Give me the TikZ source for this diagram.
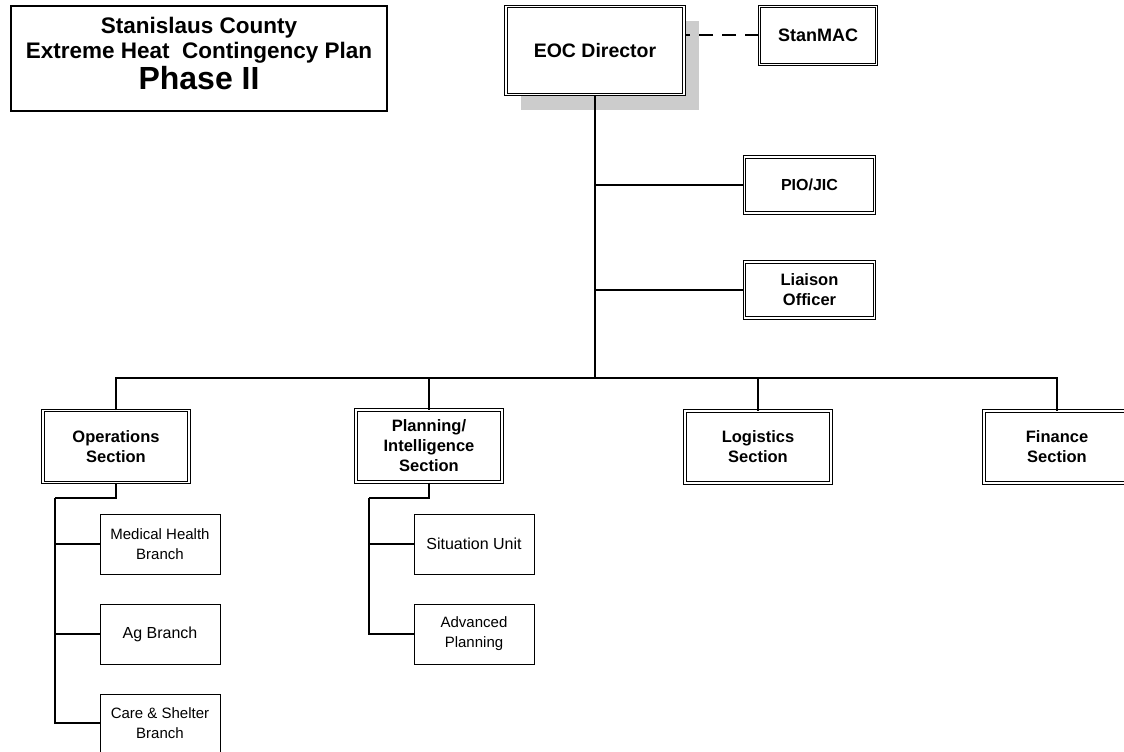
\documentclass[tikz,border=0pt]{standalone}
\usepackage{fontspec}
\setmainfont{Liberation Sans}
\usetikzlibrary{shadows}

\begin{document}
\begin{tikzpicture}[x=1pt,y=-1pt]
\tikzstyle{every node}+=[inner sep=0pt]
\tikzstyle{titlebox}=[draw, line width=2.6pt, minimum width=376pt, minimum height=105pt]
\tikzstyle{dbox}=[draw, fill=white, line width=1pt, double, double distance=1.4pt, align=center, font=\bfseries\fontsize{16.5}{20}\selectfont]
\tikzstyle{sect}=[dbox, minimum width=146pt, minimum height=72pt]
\tikzstyle{staff}=[dbox, minimum width=130pt, minimum height=56pt]
\tikzstyle{unit}=[draw, fill=white, line width=1pt, minimum width=120pt, minimum height=60pt, align=center, font=\fontsize{15}{20}\selectfont]
\tikzstyle{link}=[line width=1.4pt]
\useasboundingbox (0,0) rectangle (1124,752);
\node [titlebox, label={[align=center, yshift=5pt, font=\bfseries\fontsize{22.5}{25}\selectfont]center:Stanislaus County\\ Extreme Heat\ \ Contingency Plan\\[2pt] {\fontsize{32}{32}\selectfont Phase II}}] (title) at (199,58.5) {};
\node [dbox, minimum width=178pt, minimum height=88pt, font=\bfseries\fontsize{19.5}{22}\selectfont, drop shadow={shadow xshift=15pt, shadow yshift=-15pt, fill=black!20, draw=none, opacity=1}] (eoc) at (595,50.5) {EOC Director};
\node [dbox, minimum width=117pt, minimum height=58pt, font=\bfseries\fontsize{18}{20}\selectfont] (stanmac) at (818,35.5) {StanMAC};
\node [staff, font=\bfseries\fontsize{16}{18}\selectfont] (pio) at (809.5,185) {PIO/JIC};
\node [staff] (liaison) at (809.5,290) {Liaison\\ Officer};
\node [sect] (ops) at (116,446.5) {Operations\\ Section};
\node [sect] (plan) at (429,446) {Planning/\\ Intelligence\\ Section};
\node [sect] (logi) at (758,447) {Logistics\\ Section};
\node [sect] (fin) at (1057,447) {Finance\\ Section};
\node [unit] (med) at (160,544) {Medical Health\\ Branch};
\node [unit, font=\fontsize{16}{20}\selectfont] (ag) at (160,634) {Ag Branch};
\node [unit, minimum height=58pt] (care) at (160,723) {Care \& Shelter\\ Branch};
\node [unit, font=\fontsize{16}{20}\selectfont] (sit) at (474,544) {Situation Unit};
\node [unit] (adv) at (474,634) {Advanced\\ Planning};
\coordinate (bus) at (595,378);
\coordinate (opsbus) at (55,498);
\coordinate (planbus) at (369,498);
\draw [line width=2pt, dash pattern=on 14pt off 9pt] (stanmac.west) -- (stanmac.west -| eoc.east);
\draw [link] (eoc) -- (bus);
\draw [link] (pio.west) -- (pio.west -| eoc.south);
\draw [link] (liaison.west) -- (liaison.west -| eoc.south);
\draw [link] (ops.north) |- (bus);
\draw [link] (plan.north) |- (bus);
\draw [link] (logi.north) |- (bus);
\draw [link] (fin.north) |- (bus);
\draw [link] (ops.south) |- (opsbus);
\draw [link] (opsbus) |- (care.west);
\draw [link] (med.west) -- (med.west -| opsbus);
\draw [link] (ag.west) -- (ag.west -| opsbus);
\draw [link] (plan.south) |- (planbus);
\draw [link] (planbus) |- (adv.west);
\draw [link] (sit.west) -- (sit.west -| planbus);
\end{tikzpicture}
\end{document}
